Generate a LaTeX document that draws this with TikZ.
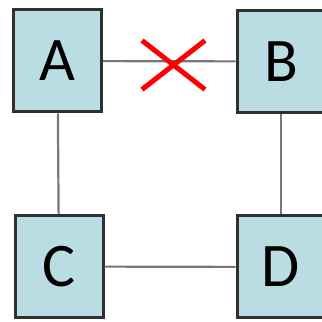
\documentclass[tikz,border=0pt]{standalone}
\usepackage{fontspec}
\setmainfont{Carlito}
\usetikzlibrary{shapes.misc}
\definecolor{boxfill}{HTML}{B9DDE2}
\definecolor{boxline}{HTML}{303030}
\definecolor{linkgray}{HTML}{777777}

\begin{document}
\begin{tikzpicture}[x=1pt,y=1pt,
  box/.style={draw=boxline,line width=3pt,fill=boxfill,
    minimum width=88pt,minimum height=102pt,inner sep=0pt,
    font=\fontsize{62}{62}\selectfont},
  link/.style={draw=linkgray,line width=2.2pt}]

\useasboundingbox (0,0) rectangle (322,322);

% Nodes
\node[box] (A) at (57.5,261) {A};
\node[box] (B) at (281,260.5) {B};
\node[box] (C) at (59,55.5) {C};
\node[box] (D) at (281,55) {D};

% Links
\draw[link] (A) -- (B);
\draw[link] (A) -- (C);
\draw[link] (B) -- (D);
\draw[link] (C) -- (D);

% Broken link
\node[cross out,draw=red,line width=5pt,minimum width=58pt,
  minimum height=44pt,inner sep=0pt] (cut) at (173.5,257) {};

\end{tikzpicture}
\end{document}
